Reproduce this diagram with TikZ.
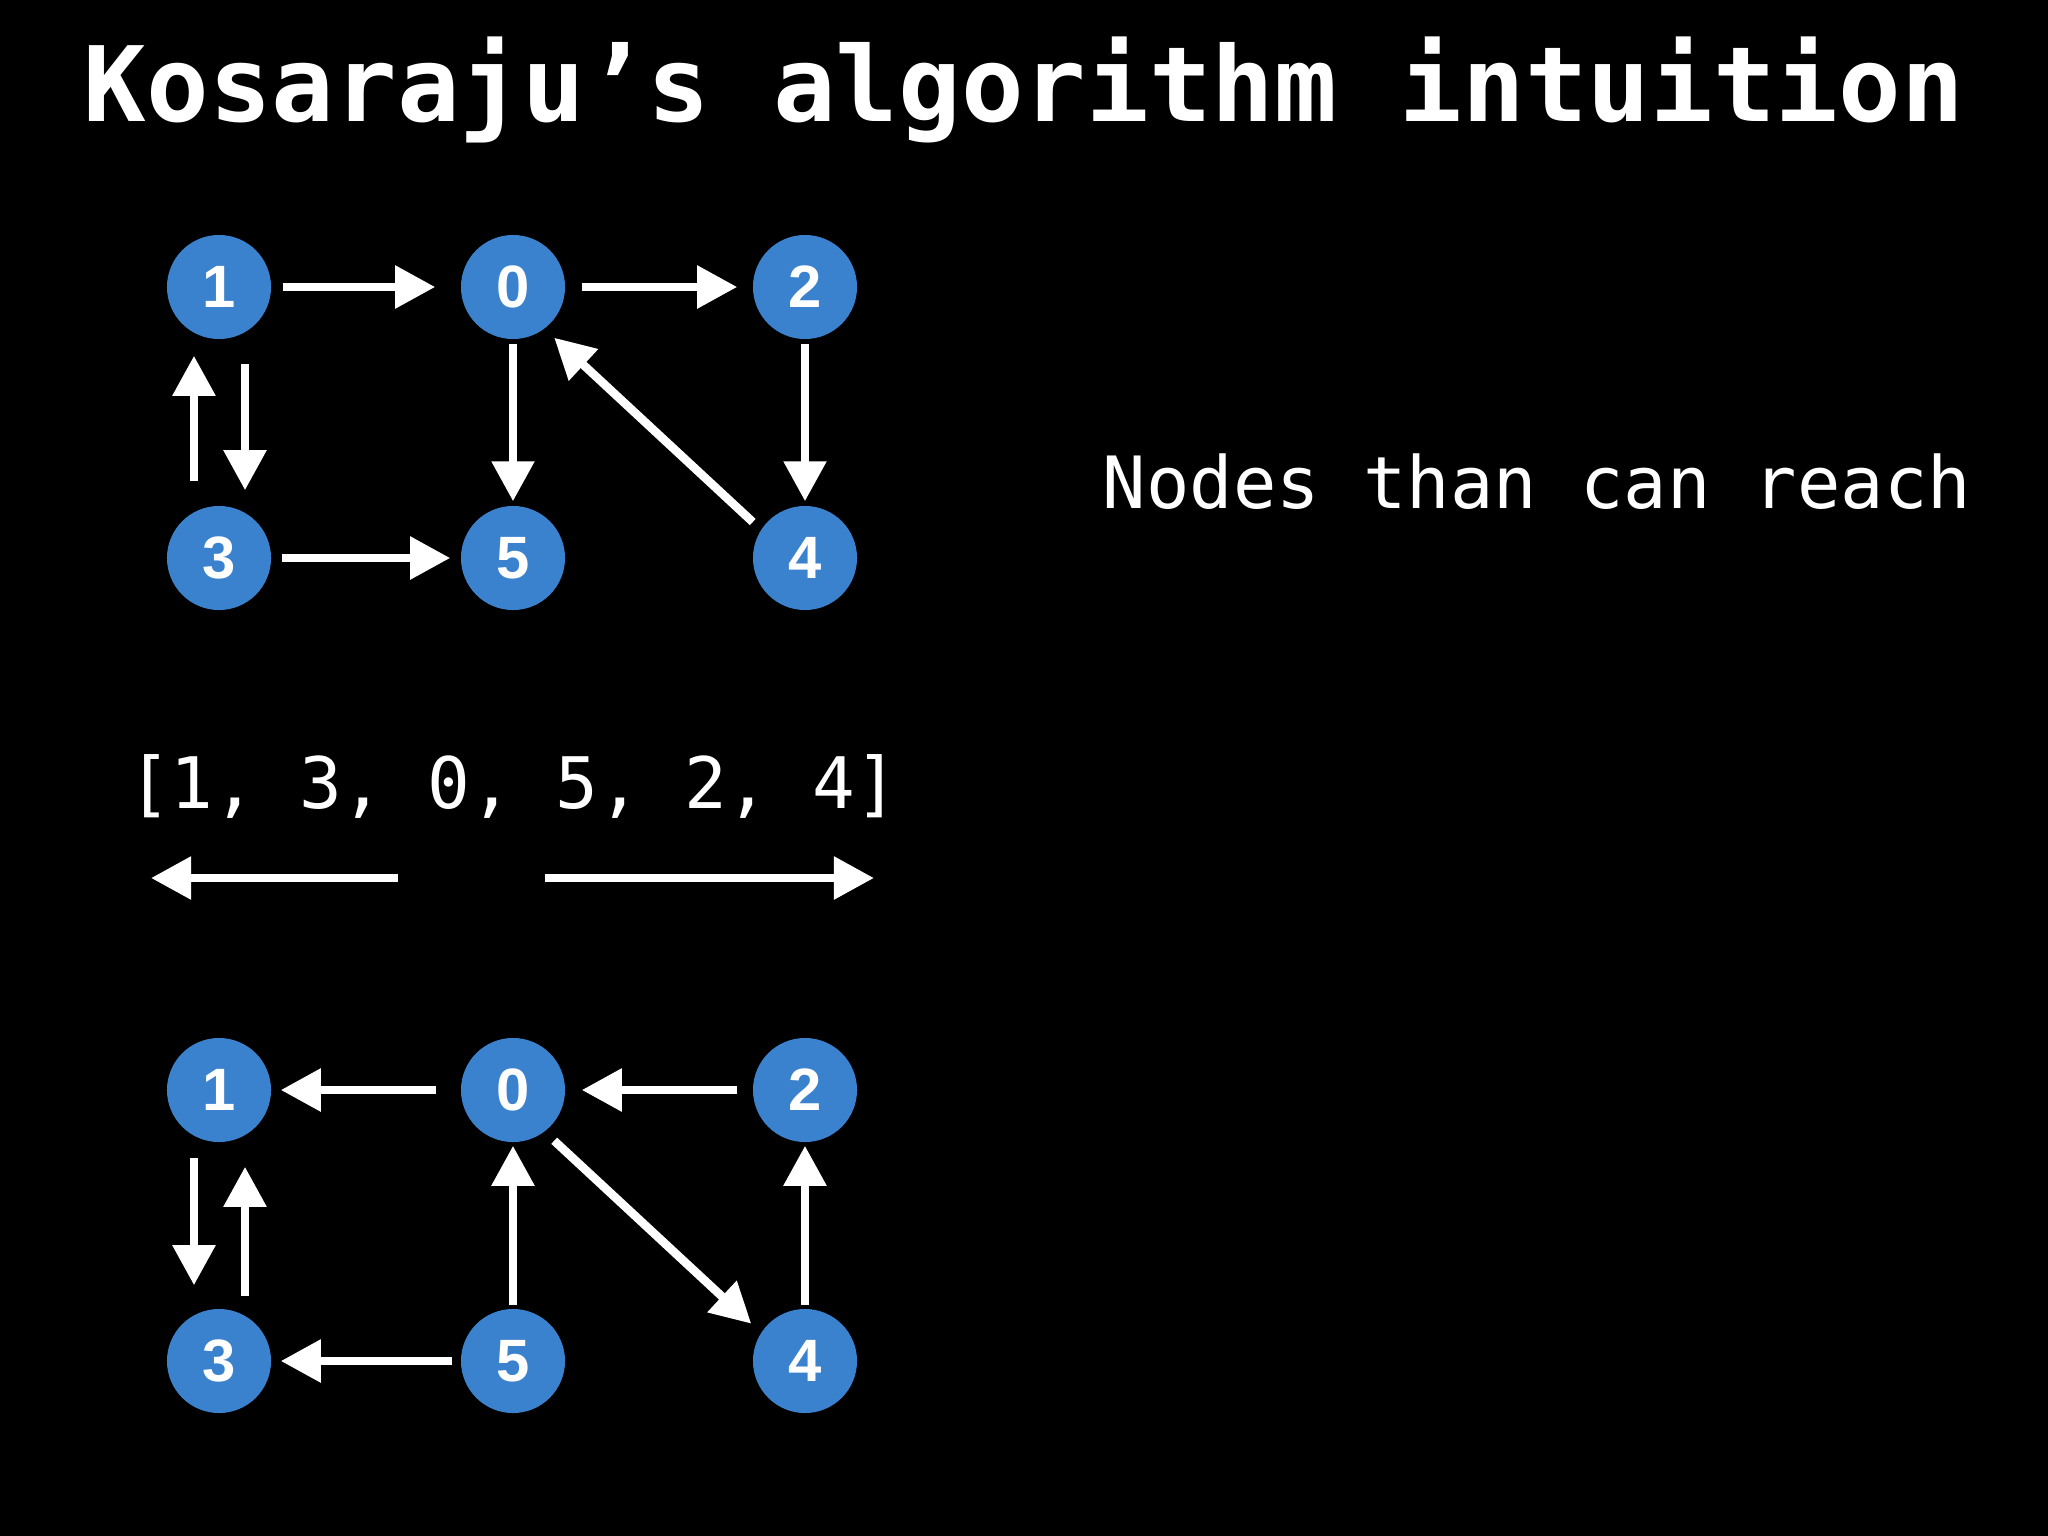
\documentclass[tikz,border=0pt]{standalone}
\usepackage{fontspec}
\setmonofont{DejaVu Sans Mono}
\newfontfamily\labelfont{Liberation Sans}
\usetikzlibrary{arrows.meta, positioning}
\definecolor{vertblue}{RGB}{59,130,206}

\begin{document}
\begin{tikzpicture}[x=0.01cm, y=-0.01cm,
    vert/.style={circle, fill=vertblue, minimum size=1.04cm, inner sep=0pt,
                 text=white, font=\labelfont\bfseries\fontsize{17}{18}\selectfont},
    arr/.style={-{Triangle[length=0.4cm, width=0.41cm]}, line width=0.085cm, white},
    mono/.style={text=white, inner sep=0pt, anchor=base,
                 font=\ttfamily\fontsize{20.5}{24}\selectfont}
  ]
    \useasboundingbox[fill=black] (0,0) rectangle (2048,1536);

    %% Title
    \node[text=white, inner sep=0pt, anchor=base,
          font=\ttfamily\bfseries\fontsize{29.6}{36}\selectfont] (title) at (1024,121)
          {Kosaraju’s algorithm intuition};

    %% Top graph
    \node[vert] (t1) at (219,287) {1};
    \node[vert] (t0) at (513,287) {0};
    \node[vert] (t2) at (805,287) {2};
    \node[vert] (t3) at (219,558) {3};
    \node[vert] (t5) at (513,558) {5};
    \node[vert] (t4) at (805,558) {4};

    \draw[arr, shorten <=0.11cm, shorten >=0.25cm] (t1) -- (t0);
    \draw[arr, shorten <=0.16cm, shorten >=0.15cm] (t0) -- (t2);
    \draw[arr, shorten <=0.04cm, shorten >=0.04cm] (t0) -- (t5);
    \draw[arr, shorten <=0.04cm, shorten >=0.04cm] (t2) -- (t4);
    \draw[arr, shorten <=0.10cm, shorten >=0.10cm] (t3) -- (t5);
    \draw[arr, shorten <=0.09cm, shorten >=0.13cm,
          transform canvas={xshift=-0.07cm, yshift=-0.06cm}] (t4) -- (t0);
    \draw[arr, shorten <=0.24cm, shorten >=0.16cm]
      ([xshift=-0.25cm]t3.north) -- ([xshift=-0.25cm]t1.south);
    \draw[arr, shorten <=0.24cm, shorten >=0.15cm]
      ([xshift=0.26cm]t1.south) -- ([xshift=0.26cm]t3.north);

    %% Caption
    \node[mono] (reach) at (1537,508) {Nodes than can reach};

    %% Order list
    \node[mono, font=\ttfamily\fontsize{20.2}{24}\selectfont] (order) at (513,808)
      {[1, 3, 0, 5, 2, 4]};
    \coordinate (lfrom) at (398,878);
    \coordinate (lto)   at (151,878);
    \coordinate (rfrom) at (545,878);
    \coordinate (rto)   at (874,878);
    \draw[arr] (lfrom) -- (lto);
    \draw[arr] (rfrom) -- (rto);

    %% Bottom graph (reversed)
    \node[vert] (b1) at (219,1090) {1};
    \node[vert] (b0) at (513,1090) {0};
    \node[vert] (b2) at (805,1090) {2};
    \node[vert] (b3) at (219,1361) {3};
    \node[vert] (b5) at (513,1361) {5};
    \node[vert] (b4) at (805,1361) {4};

    \draw[arr, shorten <=0.24cm, shorten >=0.09cm] (b0) -- (b1);
    \draw[arr, shorten <=0.15cm, shorten >=0.16cm] (b2) -- (b0);
    \draw[arr, shorten <=0.03cm, shorten >=0.03cm] (b5) -- (b0);
    \draw[arr, shorten <=0.03cm, shorten >=0.03cm] (b4) -- (b2);
    \draw[arr, shorten <=0.08cm, shorten >=0.09cm] (b5) -- (b3);
    \draw[arr, shorten <=0.13cm, shorten >=0.11cm,
          transform canvas={xshift=-0.07cm, yshift=-0.06cm}] (b0) -- (b4);
    \draw[arr, shorten <=0.15cm, shorten >=0.23cm]
      ([xshift=-0.25cm]b1.south) -- ([xshift=-0.25cm]b3.north);
    \draw[arr, shorten <=0.12cm, shorten >=0.24cm]
      ([xshift=0.26cm]b3.north) -- ([xshift=0.26cm]b1.south);
  \end{tikzpicture}
\end{document}
